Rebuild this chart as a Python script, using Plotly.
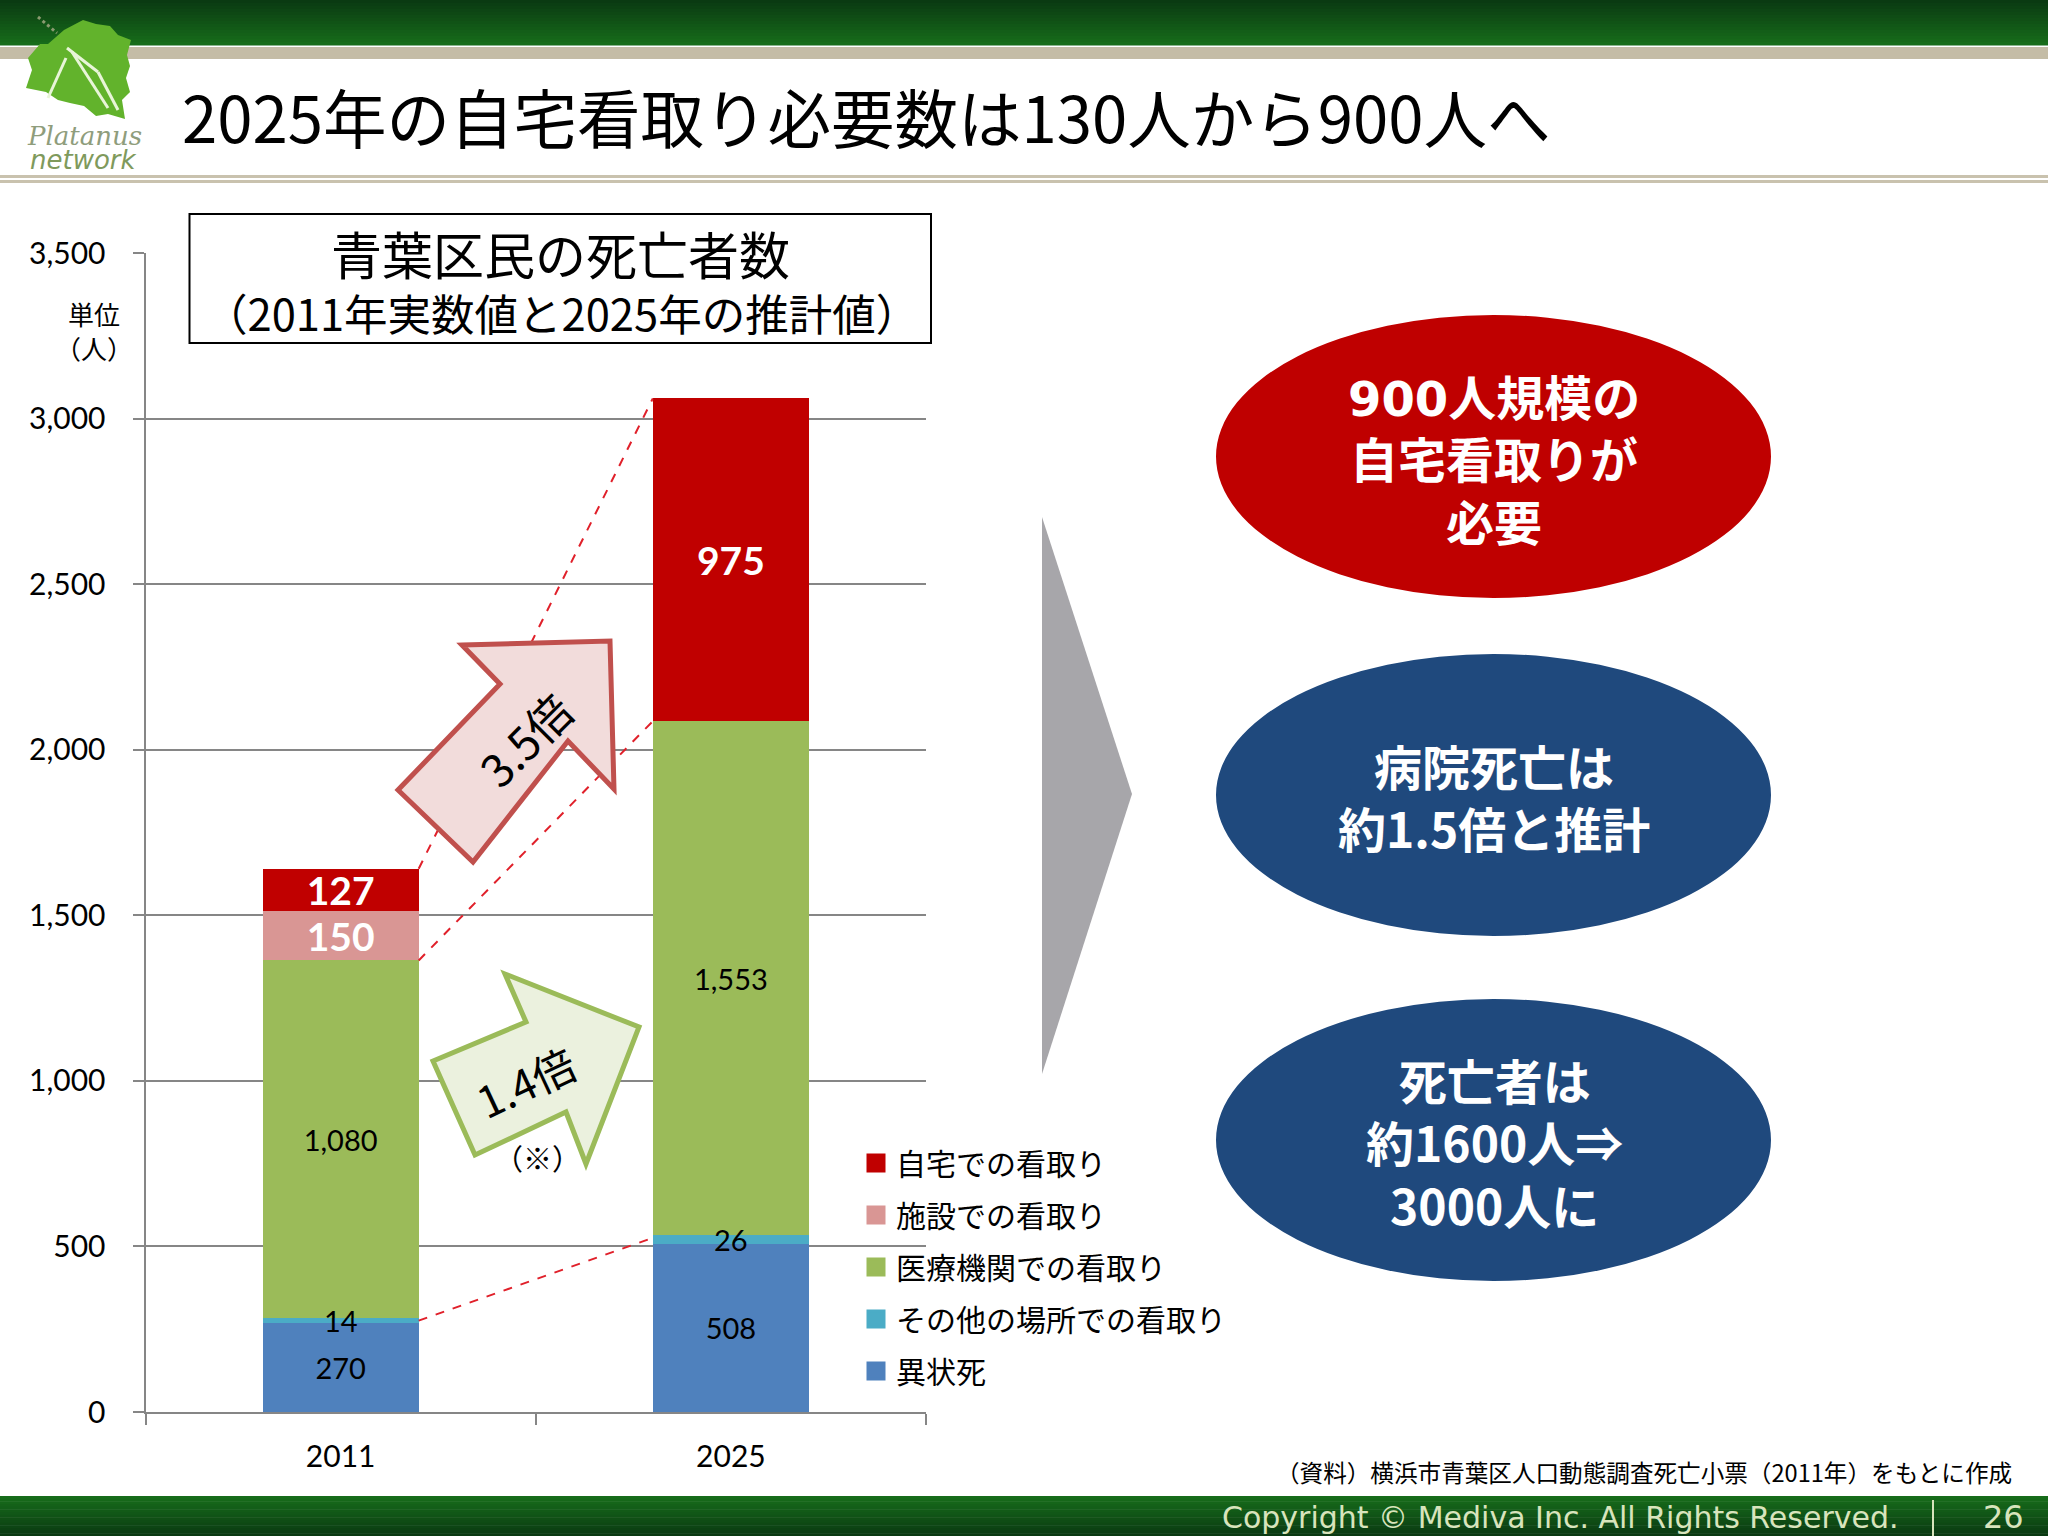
import plotly.graph_objects as go

W, H = 2048, 1536
categories = ["2011", "2025"]
series_names = ["異状死", "その他の場所での看取り", "医療機関での看取り", "施設での看取り", "自宅での看取り"]
abnormal = [270, 508]
other = [14, 26]
medical = [1080, 1553]
facility = [150, None]
home = [127, 975]
colors = ["#4f81bd", "#4bacc6", "#9bbb59", "#d99694", "#c00000"]
tick_vals = [0, 500, 1000, 1500, 2000, 2500, 3000, 3500]

JP = "Noto Sans CJK JP"
NUM = "Lato, Noto Sans CJK JP"

def px(x):
    return x / W

def py(y):
    return 1 - y / H

def path(pts):
    return "M" + " L".join(f"{px(x):.5f},{py(y):.5f}" for x, y in pts) + " Z"

shapes = []
annots = []

def rect(x0, y0, x1, y1, fill, line=None, lw=0, layer="above"):
    shapes.append(dict(type="rect", xref="paper", yref="paper", x0=px(x0), x1=px(x1), y0=py(y0), y1=py(y1),
                       fillcolor=fill, line=dict(color=line or fill, width=lw), layer=layer))

def poly(pts, fill, line=None, lw=0, layer="above"):
    shapes.append(dict(type="path", xref="paper", yref="paper", path=path(pts), fillcolor=fill,
                       line=dict(color=line or fill, width=lw), layer=layer))

def text(x, y, s, size, color="#000000", family=JP, anchor="center", angle=0, bold=False, italic=False):
    annots.append(dict(xref="paper", yref="paper", x=px(x), y=py(y), text=s, showarrow=False, xanchor=anchor,
                       yanchor="middle", textangle=angle,
                       font=dict(size=size, color=color, family=family, weight=700 if bold else 400,
                                 style="italic" if italic else "normal")))

def lerp(c0, c1, t):
    return "rgb(" + ",".join(str(round(a + (b - a) * t)) for a, b in zip(c0, c1)) + ")"

# header / footer gradient bands
DARK, LIGHT = (10, 58, 18), (23, 108, 26)
N = 15
for i in range(N):
    rect(0, 45 * i / N, W, 45 * (i + 1) / N + 0.5, lerp(DARK, LIGHT, i / (N - 1)), layer="below")
    rect(0, 1496 + 40 * i / N, W, 1496 + 40 * (i + 1) / N + 0.5, lerp(LIGHT, DARK, i / (N - 1)), layer="below")
rect(0, 47, W, 59, "#c4bca6", layer="below")
rect(0, 175, W, 178, "#c9c2ae", layer="below")
rect(0, 180, W, 183, "#c9c2ae", layer="below")

# logo
poly([(83, 20), (96, 24), (110, 26), (118, 35), (131, 40), (127, 55), (130, 66), (126, 78), (130, 92), (122, 100),
      (125, 119), (108, 114), (96, 116), (84, 106), (70, 103), (58, 100), (46, 92), (26, 88), (32, 70), (28, 58),
      (40, 44), (48, 44), (64, 30)], "#62b32c", layer="below")
shapes.append(dict(type="line", xref="paper", yref="paper", x0=px(38), y0=py(17), x1=px(57), y1=py(33),
                   line=dict(color="#8a9a70", width=3, dash="dot"), layer="below"))
for a, b in [((67, 48), (98, 72)), ((98, 72), (118, 110)), ((66, 58), (48, 98)), ((72, 52), (108, 108))]:
    shapes.append(dict(type="line", xref="paper", yref="paper", x0=px(a[0]), y0=py(a[1]), x1=px(b[0]), y1=py(b[1]),
                       line=dict(color="#e8f5d8", width=3), layer="below"))
text(84, 136, "Platanus", 26, "#8f9d7c", "DejaVu Serif", italic=True)
text(83, 160, "network", 26, "#7f9a5c", "DejaVu Sans", italic=True)

# title
text(180, 115, "2025年の自宅看取り必要数は130人から900人へ", 63.5, anchor="left")

# chart heading box
rect(189.5, 214, 931, 343, "#ffffff", "#000000", 2)
text(560, 253, "青葉区民の死亡者数", 51)
text(561, 312, "（2011年実数値と2025年の推計値）", 43.5)
text(94, 331, "単位<br>（人）", 26)

# dashed connector lines, in data space
for x0, y0, x1, y1 in [(0.2, sum(v[0] for v in (abnormal, other, medical, facility, home)), 0.8, 3062),
                       (0.2, 1514 - 150, 0.8, 2087),
                       (0.2, 276, 0.8, 526)]:
    shapes.append(dict(type="line", xref="x", yref="y", x0=x0, y0=y0, x1=x1, y1=y1,
                       line=dict(color="#e0202a", width=2, dash="dash"), layer="above"))

# block arrows
poly([(462, 645), (610, 641), (614, 789), (568, 741), (473, 862), (398, 790), (500, 684)],
     "#f2dcdb", "#c0504d", 5)
poly([(505, 974), (639, 1027), (586, 1164), (566, 1112), (475, 1155), (433, 1061), (526, 1022)],
     "#ebf1de", "#9bbb59", 5)
text(524, 739, "3.5倍", 45, angle=-45)
text(525, 1081, "1.4倍", 43, angle=-25)
text(537, 1157, "（※）", 29)

# big grey triangle
poly([(1042, 517), (1132, 794), (1042, 1074)], "#a7a6aa")

# ellipses
for y0, y1, fill in [(315, 598, "#bf0000"), (654, 936, "#1f497d"), (999, 1281, "#1f497d")]:
    shapes.append(dict(type="circle", xref="paper", yref="paper", x0=px(1216), x1=px(1771), y0=py(y0), y1=py(y1),
                       fillcolor=fill, line=dict(width=0), layer="above"))
wide_900 = "<span style=\"font-family:'DejaVu Sans'\">900</span>"
for y, s in [(458, wide_900 + "人規模の<br>自宅看取りが<br>必要"),
             (796, "病院死亡は<br>約1.5倍と推計"),
             (1141, "死亡者は<br>約1600人⇒<br>3000人に")]:
    text(1494, y, s, 48, "#ffffff", bold=True)

# source and footer
text(2014, 1472, "（資料）横浜市青葉区人口動態調査死亡小票（2011年）をもとに作成", 23.6, anchor="right")
text(1220, 1517, "Copyright © Mediva Inc. All Rights Reserved.", 30, "#d8e4bc", "DejaVu Sans", anchor="left")
rect(1932, 1500, 1934, 1536, "#d8e4bc")
text(2003, 1517, "26", 32, "#d8e4bc", "DejaVu Sans")

fig = go.Figure()
values = [abnormal, other, medical, facility, home]
for name, vals, col in zip(series_names, values, colors):
    white = col in ("#d99694", "#c00000")
    small = vals is other
    fig.add_trace(go.Bar(
        x=categories, y=vals, name=name, marker=dict(color=col, line=dict(width=0)), showlegend=False,
        text=None if small else [f"{v:,}" if v is not None else "" for v in vals],
        textposition="none" if small else "inside", textangle=0,
        insidetextanchor="middle", constraintext="none",
        textfont=dict(size=39 if white else 29, color="#ffffff" if white else "#000000", family=NUM,
                      weight=700 if white else 400)))
# the labels of the thin segments overflow their bars, so they are placed on top through the axes
for i, (a, o) in enumerate(zip(abnormal, other)):
    annots.append(dict(xref="x", yref="y", x=i, y=a + o / 2, text=str(o), showarrow=False,
                       font=dict(size=29, family=NUM, color="#000000")))
# legend entries (top row first), with the square swatch size of the reference
for name, col in reversed(list(zip(series_names, colors))):
    fig.add_trace(go.Scatter(x=[None], y=[None], mode="markers", name=name, legendgroup=name,
                             marker=dict(symbol="square", size=16, color=col, line=dict(color=col, width=3))))

fig.update_layout(
    width=W, height=H, margin=dict(l=0, r=0, t=0, b=0, pad=0, autoexpand=False), autosize=False,
    paper_bgcolor="#ffffff", plot_bgcolor="rgba(0,0,0,0)", barmode="stack", bargap=0.6,
    showlegend=True,
    legend=dict(x=px(856), y=py(1137), xanchor="left", yanchor="top", bgcolor="rgba(0,0,0,0)",
                traceorder="grouped", tracegroupgap=10, font=dict(size=30, family=JP, color="#000000"),
                itemclick=False, itemdoubleclick=False),
    xaxis=dict(domain=[px(145.5), px(926)], type="category", range=[-0.5, 1.5], tickson="boundaries", ticks="outside",
               ticklen=11, tickwidth=2, tickcolor="#868686", showline=True, linecolor="#868686", linewidth=2,
               showgrid=False, tickfont=dict(size=30, family=NUM, color="#000000"), ticklabelstandoff=17),
    yaxis=dict(domain=[1 - 1412 / H, 1 - 253.4 / H], range=[0, 3500], tickvals=tick_vals, tickformat=",",
               ticks="outside", ticklen=11, tickwidth=2, tickcolor="#868686", showline=True, linecolor="#868686",
               linewidth=2, gridcolor="#868686", gridwidth=2, zeroline=False,
               tickfont=dict(size=30, family=NUM, color="#000000"), ticklabelstandoff=21),
    shapes=shapes, annotations=annots,
)

fig.write_html("out.html", post_script="document.body.style.margin='0';document.documentElement.style.overflow='hidden';",
               config=dict(displayModeBar=False))
